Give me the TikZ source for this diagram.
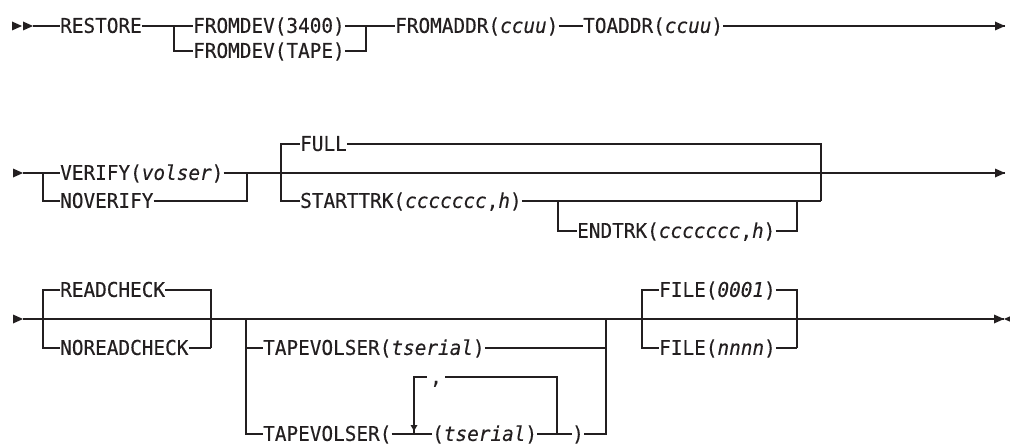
\documentclass[tikz,border=0pt]{standalone}
\usepackage{fontspec}
\newfontfamily\dfont[FakeStretch=0.949,FakeBold=0.3]{DejaVu Sans Mono}
\definecolor{ink}{RGB}{35,31,32}
\begin{document}
\begin{tikzpicture}[x=1pt,y=-1pt,
  lbl/.style={inner sep=0pt, text height=16.8pt, text depth=3pt, anchor=west,
              font=\fontsize{20.4}{21}\dfont, text=ink},
  rail/.style={draw=ink, line width=1.3pt},
  tipfill/.style={fill=ink}]
\useasboundingbox (0,0) rectangle (1010,444);

% ---------------- Row 1 ----------------
\node[lbl] (restore) at (60,26) {RESTORE};
\node[lbl] (fd1) at (193,26) {FROMDEV(3400)};
\node[lbl] (fd2) at (193,51) {FROMDEV(TAPE)};
\node[lbl] (fa) at (395,26) {FROMADDR(\textit{ccuu})};
\node[lbl] (ta) at (583,26) {TOADDR(\textit{ccuu})};
\coordinate (s1) at (33,26);
\coordinate (j1a) at (174,26);
\coordinate (j1b) at (366,26);
\coordinate (e1) at (1005,26);
\fill[tipfill] (22,26) -- ++(-10,-4.5) -- ++(0,9) -- cycle;
\fill[tipfill] (s1) -- ++(-10,-4.5) -- ++(0,9) -- cycle;
\draw[rail] (s1) -- (restore.west);
\draw[rail] (restore.east) -- (fd1.west);
\draw[rail] (j1a) |- (fd2.west);
\draw[rail] (fd1.east) -- (fa.west);
\draw[rail] (fd2.east) -| (j1b);
\draw[rail] (fa.east) -- (ta.west);
\draw[rail] (ta.east) -- (e1);
\fill[tipfill] (e1) -- ++(-10,-4.5) -- ++(0,9) -- cycle;

% ---------------- Row 2 ----------------
\node[lbl] (ver) at (60,173) {VERIFY(\textit{volser})};
\node[lbl] (nover) at (60,201) {NOVERIFY};
\node[lbl] (full) at (300,144) {FULL};
\node[lbl] (st) at (300,201) {STARTTRK(\textit{ccccccc},\textit{h})};
\node[lbl] (et) at (577,231) {ENDTRK(\textit{ccccccc},\textit{h})};
\coordinate (s2) at (23,173);
\coordinate (b2a) at (43,201);
\coordinate (b2b) at (247,173);
\coordinate (b2c) at (281,201);
\coordinate (b2d) at (821,201);
\coordinate (b2e) at (558,201);
\coordinate (b2f) at (797,201);
\coordinate (e2) at (1005,173);
\fill[tipfill] (s2) -- ++(-10,-4.5) -- ++(0,9) -- cycle;
\draw[rail] (s2) -- (ver.west);
\draw[rail] (ver.west -| b2a) -- (b2a) -- (nover.west);
\draw[rail] (ver.east) -- (e2);
\draw[rail] (nover.east) -| (b2b);
\draw[rail] (full.west) -| (b2c) -- (st.west);
\draw[rail] (full.east) -| (b2d);
\draw[rail] (st.east) -- (b2d);
\draw[rail] (b2e) |- (et.west);
\draw[rail] (et.east) -| (b2f);
\fill[tipfill] (e2) -- ++(-10,-4.5) -- ++(0,9) -- cycle;

% ---------------- Row 3 ----------------
\node[lbl] (rc) at (60,290) {READCHECK};
\node[lbl] (nrc) at (60,348) {NOREADCHECK};
\node[lbl] (tv1) at (263,348) {TAPEVOLSER(\textit{tserial})};
\node[lbl] (tv2) at (263,434) {TAPEVOLSER(};
\node[lbl] (ts) at (432,434) {(\textit{tserial})};
\node[lbl] (cp) at (572,434) {)};
\node[lbl, inner xsep=3pt] (cm) at (427,377) {,};
\node[lbl] (f1) at (659,290) {FILE(\textit{0001})};
\node[lbl] (f2) at (659,348) {FILE(\textit{nnnn})};
\coordinate (s3) at (23,319);
\coordinate (e3) at (1004,319);
\coordinate (b3a) at (43,348);
\coordinate (b3b) at (211,348);
\coordinate (b3c) at (246,319);
\coordinate (b3d) at (606,319);
\coordinate (b3e) at (642,348);
\coordinate (b3f) at (797,348);
\coordinate (lpL) at (414,434);
\coordinate (lpR) at (557,434);
\fill[tipfill] (s3) -- ++(-10,-4.5) -- ++(0,9) -- cycle;
\draw[rail] (s3) -- (e3);
\draw[rail] (rc.west) -| (b3a) -- (nrc.west);
\draw[rail] (rc.east) -| (b3b);
\draw[rail] (nrc.east) -- (b3b);
\draw[rail] (b3c) |- (tv2.west);
\draw[rail] (b3c |- tv1.west) -- (tv1.west);
\draw[rail] (tv1.east) -- (b3d |- tv1.east);
\draw[rail] (tv2.east) -- (ts.west);
\draw[rail] (ts.east) -- (cp.west);
\draw[rail] (cp.east) -| (b3d);
\draw[rail] (lpL) |- (cm.west);
\draw[rail] (cm.east) -| (lpR);
\fill[tipfill] (414,431) -- ++(-3.5,-6) -- ++(7,0) -- cycle;
\draw[rail] (f1.west) -| (b3e) -- (f2.west);
\draw[rail] (f1.east) -| (b3f);
\draw[rail] (f2.east) -- (b3f);
\fill[tipfill] (e3) -- ++(-10,-4.5) -- ++(0,9) -- cycle;
\fill[tipfill] (e3) -- ++(10,-4.5) -- ++(0,9) -- cycle;
\end{tikzpicture}
\end{document}
